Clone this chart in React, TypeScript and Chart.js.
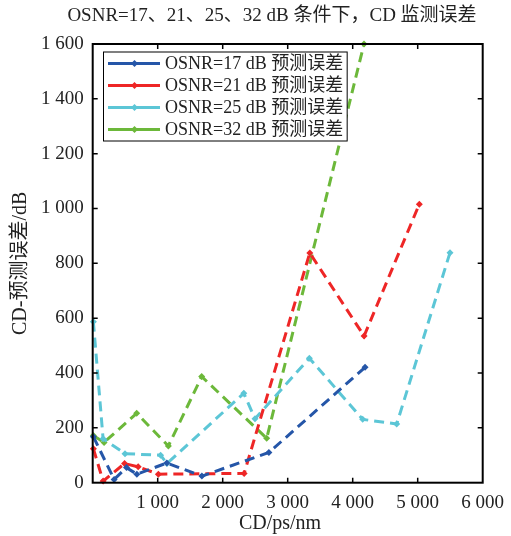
import React, { useEffect, useRef } from "react";
import { Chart, registerables } from "chart.js";

Chart.register(...registerables);

// ---- data ----
const titleText = "OSNR=17、21、25、32 dB 条件下，CD 监测误差";
const xTitle = "CD/ps/nm";
const yTitle = "CD-预测误差/dB";

const seriesNames = [
  "OSNR=17 dB 预测误差",
  "OSNR=21 dB 预测误差",
  "OSNR=25 dB 预测误差",
  "OSNR=32 dB 预测误差",
];
const seriesColors = ["#2556a8", "#ee2626", "#5cc6d6", "#6cb83a"];

const osnr17X = [10, 330, 520, 680, 1140, 1680, 2710, 4190];
const osnr17Y = [168, 12, 55, 31, 72, 24, 110, 421];

const osnr21X = [10, 160, 490, 700, 1010, 2330, 3340, 4175, 5025];
const osnr21Y = [124, 6, 70, 58, 31, 34, 838, 535, 1016];

const osnr25X = [10, 160, 497, 1045, 1143, 2325, 2497, 3333, 4154, 4677, 5497];
const osnr25Y = [587, 160, 106, 100, 70, 326, 233, 454, 231, 214, 839];

const osnr32X = [10, 175, 677, 1164, 1677, 2677, 4174];
const osnr32Y = [172, 147, 253, 134, 387, 162, 1600];

const xTicks = [0, 1000, 2000, 3000, 4000, 5000, 6000];
const yTicks = [0, 200, 400, 600, 800, 1000, 1200, 1400, 1600];

const FONT = '"Liberation Serif", "Times New Roman", "Noto Sans CJK SC", serif';

function fmt(v: number): string {
  if (v === 0) return "0";
  if (v >= 1000) {
    return `${Math.floor(v / 1000)} ${String(v % 1000).padStart(3, "0")}`;
  }
  return String(v);
}

function toPoints(xs: number[], ys: number[]) {
  return xs.map((x, i) => ({ x, y: ys[i] }));
}

const framePlugin = {
  id: "frame",
  afterDatasetsDraw(chart: any) {
    const { ctx, chartArea } = chart;
    const { left, right, top, bottom } = chartArea;
    const xs = chart.scales.x;
    const ys = chart.scales.y;
    ctx.save();
    ctx.strokeStyle = "#000";
    ctx.lineWidth = 2;
    ctx.strokeRect(left, top, right - left, bottom - top);
    ctx.lineWidth = 1.5;
    const tl = 5;
    ctx.beginPath();
    xTicks.forEach((v) => {
      if (v === xTicks[0] || v === xTicks[xTicks.length - 1]) return;
      const px = xs.getPixelForValue(v);
      ctx.moveTo(px, bottom);
      ctx.lineTo(px, bottom - tl);
      ctx.moveTo(px, top);
      ctx.lineTo(px, top + tl);
    });
    yTicks.forEach((v) => {
      if (v === yTicks[0] || v === yTicks[yTicks.length - 1]) return;
      const py = ys.getPixelForValue(v);
      ctx.moveTo(left, py);
      ctx.lineTo(left + tl, py);
      ctx.moveTo(right, py);
      ctx.lineTo(right - tl, py);
    });
    ctx.stroke();
    ctx.restore();
  },
};

const textPlugin = {
  id: "texts",
  afterDraw(chart: any) {
    const { ctx } = chart;
    ctx.save();
    ctx.fillStyle = "#222";
    ctx.textAlign = "center";
    ctx.textBaseline = "middle";
    ctx.font = `19px ${FONT}`;
    ctx.fillText(titleText, 272, 16);
    ctx.font = `20px ${FONT}`;
    ctx.fillText(xTitle, 280, 524);

    // legend
    const lx = 103.5;
    const ly = 52;
    ctx.font = `18px ${FONT}`;
    let maxW = 0;
    seriesNames.forEach((n) => {
      maxW = Math.max(maxW, ctx.measureText(n).width);
    });
    const textX = 165;
    const boxW = textX - lx + maxW + 4;
    const boxH = 89;
    ctx.fillStyle = "#fff";
    ctx.fillRect(lx, ly, boxW, boxH);
    ctx.strokeStyle = "#000";
    ctx.lineWidth = 1;
    ctx.strokeRect(lx, ly, boxW, boxH);
    seriesNames.forEach((n, i) => {
      const cy = 63.5 + i * 22;
      ctx.strokeStyle = seriesColors[i];
      ctx.lineWidth = 3;
      ctx.beginPath();
      ctx.moveTo(108, cy);
      ctx.lineTo(160, cy);
      ctx.stroke();
      ctx.fillStyle = seriesColors[i];
      ctx.beginPath();
      ctx.moveTo(134.5, cy - 3.5);
      ctx.lineTo(138, cy);
      ctx.lineTo(134.5, cy + 3.5);
      ctx.lineTo(131, cy);
      ctx.closePath();
      ctx.fill();
      ctx.fillStyle = "#222";
      ctx.textAlign = "left";
      ctx.fillText(n, textX, cy + 1);
    });
    ctx.restore();
  },
};

export default function App() {
  const ref = useRef<HTMLCanvasElement | null>(null);
  useEffect(() => {
    if (!ref.current) return;
    const xsList = [osnr17X, osnr21X, osnr25X, osnr32X];
    const ysList = [osnr17Y, osnr21Y, osnr25Y, osnr32Y];
    const chart = new Chart(ref.current, {
      type: "line",
      data: {
        datasets: seriesNames.map((name, i) => ({
          label: name,
          data: toPoints(xsList[i], ysList[i]),
          borderColor: seriesColors[i],
          backgroundColor: seriesColors[i],
          borderWidth: 3,
          borderDash: [10, 6],
          pointStyle: "rectRot",
          pointRadius: 3.5,
          pointBorderWidth: 0,
          tension: 0,
          fill: false,
          clip: false,
        })),
      },
      options: {
        responsive: false,
        animation: false,
        devicePixelRatio: 1,
        layout: { padding: { top: 44, right: 28.3, left: 0, bottom: 0 } },
        plugins: {
          legend: { display: false },
          title: { display: false },
          tooltip: { enabled: false },
        },
        scales: {
          x: {
            type: "linear",
            min: 0,
            max: 6000,
            afterBuildTicks: (s: any) => {
              s.ticks = xTicks.map((v) => ({ value: v }));
            },
            ticks: {
              callback: (v: any) => (v === 0 ? "" : fmt(Number(v))),
              font: { family: FONT, size: 19 },
              color: "#222",
              padding: 9,
              maxRotation: 0,
              autoSkip: false,
            },
            grid: { display: false, drawTicks: false },
            border: { display: false },
            afterFit: (s: any) => {
              s.height = 53.3;
              s.paddingLeft = 0;
              s.paddingRight = 0;
            },
          },
          y: {
            type: "linear",
            min: 0,
            max: 1600,
            afterBuildTicks: (s: any) => {
              s.ticks = yTicks.map((v) => ({ value: v }));
            },
            ticks: {
              callback: (v: any) => fmt(Number(v)),
              font: { family: FONT, size: 19 },
              color: "#222",
              padding: 9,
              autoSkip: false,
            },
            grid: { display: false, drawTicks: false },
            border: { display: false },
            title: {
              display: true,
              text: yTitle,
              font: { family: FONT, size: 20 },
              color: "#222",
              padding: { top: 9, bottom: 0 },
            },
            afterFit: (s: any) => {
              s.width = 92.7;
              s.paddingTop = 0;
              s.paddingBottom = 0;
            },
          },
        },
      },
      plugins: [framePlugin, textPlugin],
    });
    return () => chart.destroy();
  }, []);

  return (
    <div style={{ position: "fixed", left: 0, top: 0, width: 511, height: 536, background: "#fff" }}>
      <canvas ref={ref} width={511} height={536} style={{ width: 511, height: 536 }} />
    </div>
  );
}
